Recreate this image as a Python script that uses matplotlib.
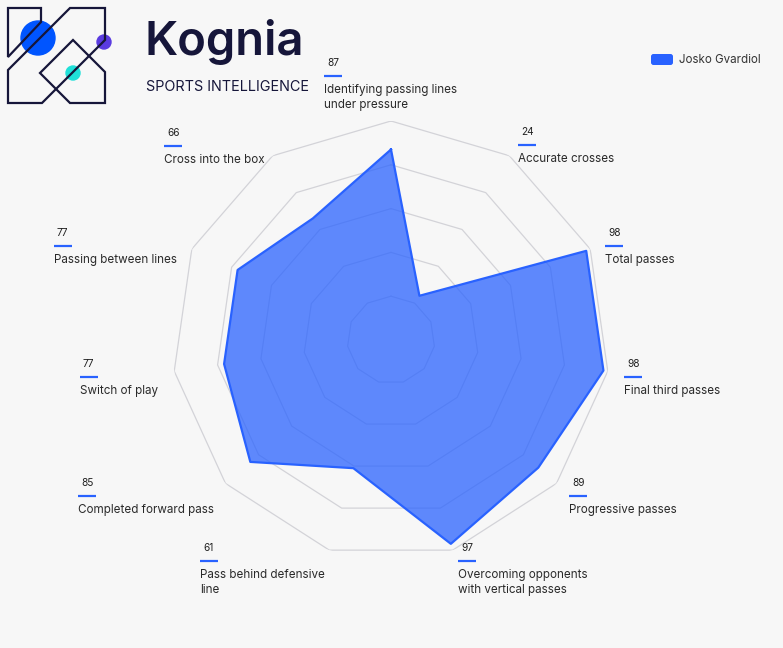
import matplotlib.pyplot as plt
import numpy as np
from matplotlib.patches import Circle, Polygon, FancyBboxPatch

categories = ["Identifying passing lines\nunder pressure", "Accurate crosses", "Total passes",
              "Final third passes", "Progressive passes", "Overcoming opponents\nwith vertical passes",
              "Pass behind defensive\nline", "Completed forward pass", "Switch of play",
              "Passing between lines", "Cross into the box"]
values = [87, 24, 98, 98, 89, 97, 61, 85, 77, 77, 66]
player = "Josko Gvardiol"
grid_levels = [20, 40, 60, 80, 100]

# label anchors in pixels (left x, y of the number)
label_pos = [(324, 63), (518, 132), (605, 233), (624, 364), (569, 483), (458, 548),
             (200, 548), (78, 483), (80, 364), (54, 233), (164, 133)]

W, H = 783, 648
BG = '#f7f7f7'
BLUE = '#2962ff'
NAVY = '#16163a'
plt.rcParams['font.family'] = ['Inter', 'DejaVu Sans']

fig = plt.figure(figsize=(W / 100, H / 100), dpi=100, facecolor=BG)

# radar
cx, cy, R = 391, 340, 219
ax = fig.add_axes([(cx - R) / W, (H - cy - R) / H, 2 * R / W, 2 * R / H], projection='polar')
ax.set_facecolor('none')
ax.set_theta_offset(np.pi / 2)
ax.set_theta_direction(-1)
ax.set_ylim(0, 100)
ax.set_xticks([])
ax.set_yticks([])
ax.grid(False)
ax.spines['polar'].set_visible(False)

n = len(values)
angles = np.linspace(0, 2 * np.pi, n, endpoint=False)
ang_closed = np.append(angles, angles[0])
for lvl in grid_levels:
    ax.plot(ang_closed, [lvl] * (n + 1), color='#d3d3d8', lw=0.9, zorder=1)

vals_closed = values + values[:1]
ax.fill(ang_closed, vals_closed, color=BLUE, alpha=0.74, lw=0, zorder=2)
ax.plot(ang_closed, vals_closed, color=BLUE, lw=1.6, zorder=3)

# overlay in pixel coordinates for labels / logo / legend
ov = fig.add_axes([0, 0, 1, 1])
ov.set_xlim(0, W)
ov.set_ylim(H, 0)
ov.axis('off')
ov.patch.set_alpha(0)

for (x, y), lab, v in zip(label_pos, categories, values):
    ov.text(x + 3, y, str(v), fontsize=7.3, color='#222222', va='center', ha='left')
    ov.plot([x, x + 18], [y + 13, y + 13], color=BLUE, lw=1.6, solid_capstyle='butt')
    ov.text(x, y + 21, lab, fontsize=8.4, color='#2a2a2a', va='top', ha='left', linespacing=1.3)

# legend
ov.add_patch(FancyBboxPatch((651, 54), 22, 11, boxstyle='round,pad=0,rounding_size=2.5',
                            facecolor=BLUE, edgecolor='none'))
ov.text(679, 60, player, fontsize=8.3, color='#333333', va='center', ha='left')

# logo
ov.add_patch(Circle((38, 38), 17, color='#0055ff', zorder=2))
ov.add_patch(Circle((104, 42), 7, color='#5a3be0', zorder=2))
ov.add_patch(Circle((73, 73), 7, color='#1fe0d8', zorder=2))
shapes = [[(8, 57), (8, 8), (41, 8), (41, 22)],
          [(8, 70), (70, 8), (105, 8), (105, 40), (42, 103), (8, 103)],
          [(40, 73), (73, 40), (105, 72), (105, 103), (70, 103)]]
for pts in shapes:
    ov.add_patch(Polygon(pts, closed=True, fill=False, edgecolor=NAVY, lw=1.6, zorder=3))

ov.text(145, 42, "Kognia", fontsize=34, fontweight='semibold', color=NAVY, va='center', ha='left')
ov.text(146, 87, "SPORTS INTELLIGENCE", fontsize=10.4, color=NAVY, va='center', ha='left')

fig.savefig('out.png', dpi=100, facecolor=BG)
